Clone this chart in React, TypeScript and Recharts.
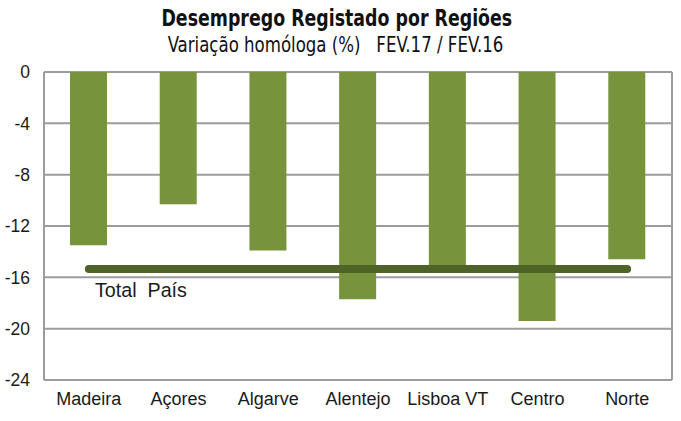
import React from 'react';
import { ComposedChart, Bar, Line, XAxis, YAxis, CartesianGrid } from 'recharts';

const categories = ['Madeira', 'Açores', 'Algarve', 'Alentejo', 'Lisboa VT', 'Centro', 'Norte'];
const variation = [-13.5, -10.3, -13.9, -17.7, -15.1, -19.4, -14.6];
const totalPais = [-15.35, -15.35, -15.35, -15.35, -15.35, -15.35, -15.35];
const yTicks = [0, -4, -8, -12, -16, -20, -24];

const data = categories.map((name, i) => ({ name, value: variation[i], total: totalPais[i] }));

const AXIS_FONT = '"Liberation Sans", Arial, sans-serif';
const TITLE_FONT = '"DejaVu Sans Condensed", "DejaVu Sans", sans-serif';

export default function App() {
  return (
    <div style={{ position: 'fixed', left: 0, top: 0, width: 681, height: 421, background: '#fff', overflow: 'hidden' }}>
      <div style={{ position: 'absolute', left: 0, top: 6, width: 674, textAlign: 'center' }}>
        <span style={{ display: 'inline-block', transform: 'scaleX(0.84)', fontFamily: TITLE_FONT, fontWeight: 'bold', fontSize: 23, lineHeight: '24px', color: '#111', whiteSpace: 'pre' }}>
          Desemprego Registado por Regiões
        </span>
      </div>
      <div style={{ position: 'absolute', left: 0, top: 35, width: 671, textAlign: 'center' }}>
        <span style={{ display: 'inline-block', transform: 'scaleX(0.9)', fontFamily: TITLE_FONT, fontSize: 20.5, lineHeight: '21px', color: '#111', whiteSpace: 'pre' }}>
          {'Variação homóloga (%)   FEV.17 / FEV.16'}
        </span>
      </div>
      <div style={{ position: 'absolute', left: 0, top: 0 }}>
        <ComposedChart width={681} height={421} data={data} margin={{ top: 72, right: 9, bottom: 11, left: 0 }}>
          <CartesianGrid
            stroke="#9c9c9c"
            strokeWidth={2}
            verticalCoordinatesGenerator={(p: any) => [p.offset.left, p.offset.left + p.offset.width]}
          />
          <XAxis
            dataKey="name"
            height={30}
            axisLine={false}
            tickLine={false}
            tickSize={6}
            tickMargin={6}
            interval={0}
            tick={{ fill: '#1a1a1a', fontSize: 18, fontFamily: AXIS_FONT }}
          />
          <YAxis
            width={44}
            domain={[-24, 0]}
            ticks={yTicks}
            axisLine={false}
            tickLine={false}
            tickSize={6}
            tickMargin={8}
            interval={0}
            tick={{ fill: '#1a1a1a', fontSize: 17.5, fontFamily: AXIS_FONT }}
          />
          <Bar dataKey="value" fill="#77933c" barSize={37} isAnimationActive={false} />
          <Line
            dataKey="total"
            stroke="#4f6228"
            strokeWidth={8}
            strokeLinecap="round"
            dot={false}
            activeDot={false}
            isAnimationActive={false}
          />
        </ComposedChart>
      </div>
      <div style={{ position: 'absolute', left: 95, top: 279, fontFamily: AXIS_FONT, fontSize: 19.7, lineHeight: '22px', color: '#1a1a1a', whiteSpace: 'pre' }}>
        {'Total  País'}
      </div>
    </div>
  );
}
